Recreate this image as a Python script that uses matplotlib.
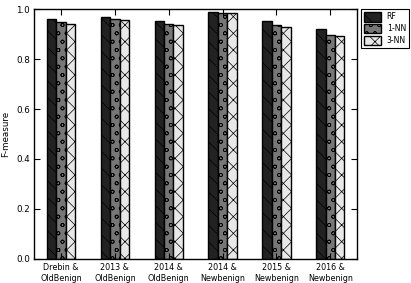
import matplotlib
matplotlib.use("Agg")
import matplotlib.pyplot as plt
import numpy as np

categories = ["Drebin &\nOldBenign", "2013 &\nOldBenign", "2014 &\nOldBenign",
              "2014 &\nNewbenign", "2015 &\nNewbenign", "2016 &\nNewbenign"]
rf = [0.960, 0.969, 0.953, 0.989, 0.952, 0.921]
nn1 = [0.947, 0.959, 0.939, 0.985, 0.936, 0.895]
nn3 = [0.939, 0.955, 0.935, 0.985, 0.927, 0.891]
series_names = ["RF", "1-NN", "3-NN"]
yticks = [0.0, 0.2, 0.4, 0.6, 0.8, 1.0]

plt.rcParams['hatch.linewidth'] = 0.5
plt.rcParams['hatch.color'] = '#555555'
fig = plt.figure(figsize=(4.11, 2.83), dpi=100)
ax = fig.add_axes([0.083, 0.085, 0.786, 0.883])

x = np.arange(len(categories))
w = 0.175
styles = [("#222222", "\\\\"), ("#777777", "oo"), ("#e8e8e8", "xx")]
for i, (vals, name, (col, hat)) in enumerate(zip([rf, nn1, nn3], series_names, styles)):
    ax.bar(x + (i - 1) * w, vals, w, color=col, hatch=hat, edgecolor="black",
           linewidth=1, label=name)

ax.set_xlim(-0.5, len(categories) - 0.5)
ax.set_ylim(0, 1.0)
ax.set_yticks(yticks)
ax.set_yticklabels([f"{t:.1f}" for t in yticks])
ax.set_xticks(x)
ax.set_xticklabels(categories, fontsize=5.8)
ax.tick_params(axis='y', labelsize=6.3)
ax.tick_params(direction='in', top=True, right=True, length=4, width=0.8, pad=3)
ax.set_ylabel("F-measure", fontsize=6.3, labelpad=4)
for s in ax.spines.values():
    s.set_linewidth(1)

leg = ax.legend(loc="upper left", bbox_to_anchor=(1.012, 1.0), fontsize=5.6,
                fancybox=False, framealpha=1, edgecolor="black",
                borderaxespad=0, handlelength=2.2, handleheight=1.5,
                borderpad=0.4, labelspacing=0.3, handletextpad=0.7)
leg.get_frame().set_linewidth(0.8)

fig.savefig("out.png", dpi=100)
